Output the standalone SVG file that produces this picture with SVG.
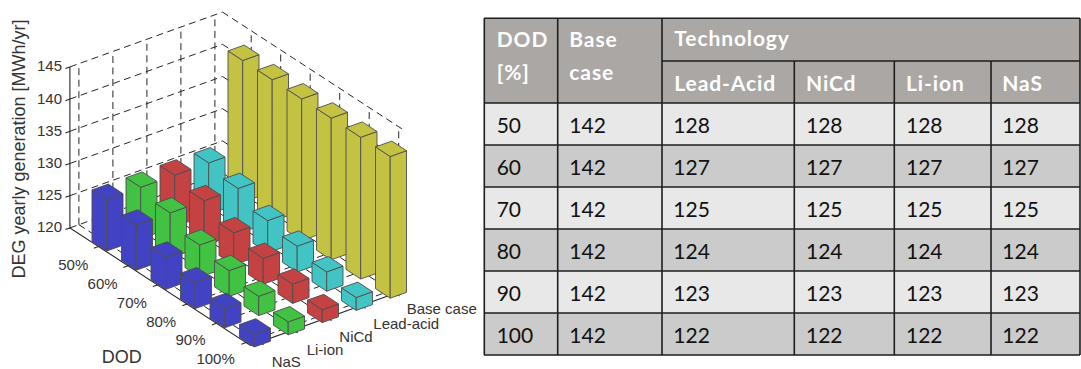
<svg xmlns="http://www.w3.org/2000/svg" width="1081" height="369" viewBox="0 0 1081 369">
<style>
  .grid{fill:none;stroke:#262626;stroke-width:1;stroke-dasharray:7 4.5}
  .axis{fill:none;stroke:#262626;stroke-width:1.1}
  .tk{font-family:"Liberation Sans",Arial,sans-serif;font-size:15px;fill:#333}
  .lbl{font-family:"Liberation Sans",Arial,sans-serif;font-size:18px;fill:#333}
  .nas{fill:#4242c4}.li{fill:#42c242}.nicd{fill:#c44242}.pb{fill:#42c4c4}.base{fill:#c4c242}
  .th{font-family:Lato,"Open Sans",sans-serif;font-weight:700;font-size:21px;letter-spacing:0.9px;fill:#fff}
  .td{font-family:Lato,"Open Sans",sans-serif;font-size:21px;fill:#111}
  .rule{fill:none;stroke:#1e1e1e;stroke-width:1.6}
</style>
<defs>
  <!-- one prism per bar height; base centre at origin, fill taken from the <use> -->
  <g id="h142" stroke="#4d4d4d" stroke-width="0.9" stroke-linejoin="round">
    <path d="M-15.5 -1.9L-0.8 7.7V-134L-15.5 -143.6Z"/>
    <path d="M-0.8 7.7L15.5 1.9V-139.8L-0.8 -134Z"/>
    <path d="M-15.5 -143.6L-0.8 -134L15.5 -139.8L0.8 -149.4Z"/>
  </g>
  <g id="h128" stroke="#4d4d4d" stroke-width="0.9" stroke-linejoin="round">
    <path d="M-15.5 -1.9L-0.8 7.7V-43.8L-15.5 -53.4Z"/>
    <path d="M-0.8 7.7L15.5 1.9V-49.6L-0.8 -43.8Z"/>
    <path d="M-15.5 -53.4L-0.8 -43.8L15.5 -49.6L0.8 -59.2Z"/>
  </g>
  <g id="h127" stroke="#4d4d4d" stroke-width="0.9" stroke-linejoin="round">
    <path d="M-15.5 -1.9L-0.8 7.7V-37.4L-15.5 -47Z"/>
    <path d="M-0.8 7.7L15.5 1.9V-43.2L-0.8 -37.4Z"/>
    <path d="M-15.5 -47L-0.8 -37.4L15.5 -43.2L0.8 -52.8Z"/>
  </g>
  <g id="h125" stroke="#4d4d4d" stroke-width="0.9" stroke-linejoin="round">
    <path d="M-15.5 -1.9L-0.8 7.7V-24.5L-15.5 -34.1Z"/>
    <path d="M-0.8 7.7L15.5 1.9V-30.3L-0.8 -24.5Z"/>
    <path d="M-15.5 -34.1L-0.8 -24.5L15.5 -30.3L0.8 -39.9Z"/>
  </g>
  <g id="h124" stroke="#4d4d4d" stroke-width="0.9" stroke-linejoin="round">
    <path d="M-15.5 -1.9L-0.8 7.7V-18.1L-15.5 -27.7Z"/>
    <path d="M-0.8 7.7L15.5 1.9V-23.9L-0.8 -18.1Z"/>
    <path d="M-15.5 -27.7L-0.8 -18.1L15.5 -23.9L0.8 -33.5Z"/>
  </g>
  <g id="h123" stroke="#4d4d4d" stroke-width="0.9" stroke-linejoin="round">
    <path d="M-15.5 -1.9L-0.8 7.7V-11.6L-15.5 -21.2Z"/>
    <path d="M-0.8 7.7L15.5 1.9V-17.4L-0.8 -11.6Z"/>
    <path d="M-15.5 -21.2L-0.8 -11.6L15.5 -17.4L0.8 -27Z"/>
  </g>
  <g id="h122" stroke="#4d4d4d" stroke-width="0.9" stroke-linejoin="round">
    <path d="M-15.5 -1.9L-0.8 7.7V-5.2L-15.5 -14.8Z"/>
    <path d="M-0.8 7.7L15.5 1.9V-11L-0.8 -5.2Z"/>
    <path d="M-15.5 -14.8L-0.8 -5.2L15.5 -11L0.8 -20.6Z"/>
  </g>
</defs>

<!-- 3-D bar chart -->
<g id="chart">
  <g id="grid" class="grid">
    <!-- back-left wall -->
    <path d="M78.9 224.7V63.7M112.9 212.5V51.5M146.9 200.3V39.3M180.9 188.1V27.1M214.9 175.9V14.9"/>
    <path d="M69.9 227.9L222.5 173.1M69.9 195.7L222.5 140.9M69.9 163.5L222.5 108.7M69.9 131.3L222.5 76.5M69.9 99.1L222.5 44.3M69.9 66.9L222.5 12.1"/>
    <!-- back-right wall -->
    <path d="M251.2 191.8V30.8M280.7 211V50M310.2 230.2V69.2M339.7 249.4V88.4M369.2 268.6V107.6M398.7 287.8V126.8"/>
    <path d="M222.5 173.1L403.1 290.6M222.5 140.9L403.1 258.4M222.5 108.7L403.1 226.2M222.5 76.5L403.1 194M222.5 44.3L403.1 161.8M222.5 12.1L403.1 129.6"/>
    <!-- floor -->
    <path d="M78.9 224.7L259.4 342.2M112.9 212.5L293.4 330M146.9 200.3L327.4 317.8M180.9 188.1L361.4 305.6M214.9 175.9L395.4 293.4"/>
    <path d="M98.5 246.5L251.2 191.8M128 265.7L280.7 211M157.5 284.9L310.2 230.2M187 304.1L339.7 249.4M216.5 323.3L369.2 268.6M246 342.5L398.7 287.8"/>
  </g>

  <g id="axes" class="axis">
    <path d="M69.9 66.9V227.9L250.4 345.4L403.1 290.6"/>
    <path d="M69.9 66.9l-4.5 1.6M69.9 99.1l-4.5 1.6M69.9 131.3l-4.5 1.6M69.9 163.5l-4.5 1.6M69.9 195.7l-4.5 1.6M69.9 227.9l-4.5 1.6"/>
    <path d="M98.5 246.5l-4.7 1.7M128 265.7l-4.7 1.7M157.5 284.9l-4.7 1.7M187 304.1l-4.7 1.7M216.5 323.3l-4.7 1.7M246 342.5l-4.7 1.7"/>
    <path d="M259.4 342.2l4.2 2.7M293.4 330l4.2 2.7M327.4 317.8l4.2 2.7M361.4 305.6l4.2 2.7M395.4 293.4l4.2 2.7"/>
  </g>

  <!-- bars, drawn back to front -->
  <g id="bars">
    <g id="dod50">
      <use href="#h142" x="243.5" y="194.5" class="base"/>
      <use href="#h128" x="209.5" y="206.7" class="pb"/>
      <use href="#h128" x="175.5" y="218.9" class="nicd"/>
      <use href="#h128" x="141.5" y="231.1" class="li"/>
      <use href="#h128" x="107.5" y="243.3" class="nas"/>
    </g>
    <g id="dod60">
      <use href="#h142" x="273" y="213.7" class="base"/>
      <use href="#h127" x="239" y="225.9" class="pb"/>
      <use href="#h127" x="205" y="238.1" class="nicd"/>
      <use href="#h127" x="171" y="250.3" class="li"/>
      <use href="#h127" x="137" y="262.5" class="nas"/>
    </g>
    <g id="dod70">
      <use href="#h142" x="302.5" y="232.9" class="base"/>
      <use href="#h125" x="268.5" y="245.1" class="pb"/>
      <use href="#h125" x="234.5" y="257.3" class="nicd"/>
      <use href="#h125" x="200.5" y="269.5" class="li"/>
      <use href="#h125" x="166.5" y="281.7" class="nas"/>
    </g>
    <g id="dod80">
      <use href="#h142" x="332" y="252.1" class="base"/>
      <use href="#h124" x="298" y="264.3" class="pb"/>
      <use href="#h124" x="264" y="276.5" class="nicd"/>
      <use href="#h124" x="230" y="288.7" class="li"/>
      <use href="#h124" x="196" y="300.9" class="nas"/>
    </g>
    <g id="dod90">
      <use href="#h142" x="361.5" y="271.3" class="base"/>
      <use href="#h123" x="327.5" y="283.5" class="pb"/>
      <use href="#h123" x="293.5" y="295.7" class="nicd"/>
      <use href="#h123" x="259.5" y="307.9" class="li"/>
      <use href="#h123" x="225.5" y="320.1" class="nas"/>
    </g>
    <g id="dod100">
      <use href="#h142" x="391" y="290.5" class="base"/>
      <use href="#h122" x="357" y="302.7" class="pb"/>
      <use href="#h122" x="323" y="314.9" class="nicd"/>
      <use href="#h122" x="289" y="327.1" class="li"/>
      <use href="#h122" x="255" y="339.3" class="nas"/>
    </g>
  </g>

  <g id="zticks" class="tk" text-anchor="end">
    <text x="62" y="71.4">145</text>
    <text x="62" y="103.6">140</text>
    <text x="62" y="135.8">135</text>
    <text x="62" y="168">130</text>
    <text x="62" y="200.2">125</text>
    <text x="62" y="232.4">120</text>
  </g>
  <g id="dodticks" class="tk" text-anchor="end">
    <text x="88.3" y="270">50%</text>
    <text x="117.6" y="288.9">60%</text>
    <text x="146.9" y="307.7">70%</text>
    <text x="176.2" y="326.6">80%</text>
    <text x="205.5" y="345.4">90%</text>
    <text x="234.8" y="364.3">100%</text>
  </g>
  <g id="techticks" class="tk">
    <text x="271.7" y="366.7">NaS</text>
    <text x="306.7" y="355">Li-ion</text>
    <text x="339.3" y="342.3">NiCd</text>
    <text x="373.3" y="329.4">Lead-acid</text>
    <text x="406.7" y="313.8">Base case</text>
  </g>
  <text class="lbl" x="101.7" y="363.3">DOD</text>
  <text class="lbl" transform="translate(24.5 149) rotate(-90)" text-anchor="middle">DEG yearly generation [MWh/yr]</text>
</g>

<!-- results table -->
<g id="table">
  <rect x="484" y="18.3" width="596" height="84.7" fill="#aba7a4"/>
  <rect x="484" y="103" width="596" height="42" fill="#e8e8e8"/>
  <rect x="484" y="145" width="596" height="42" fill="#cbcbcb"/>
  <rect x="484" y="187" width="596" height="42" fill="#e8e8e8"/>
  <rect x="484" y="229" width="596" height="42" fill="#cbcbcb"/>
  <rect x="484" y="271" width="596" height="42" fill="#e8e8e8"/>
  <rect x="484" y="313" width="596" height="42" fill="#cbcbcb"/>
  <path class="rule" d="M484 18.3H1080M662 61H1080M484 103H1080M484 145H1080M484 187H1080M484 229H1080M484 271H1080M484 313H1080M484 355H1080"/>
  <path class="rule" d="M484.3 18.3V355M557.7 18.3V355M662 18.3V355M794.3 61V355M894.3 61V355M991 61V355M1080 18.3V355"/>
  <g id="head" class="th">
    <text x="496.7" y="46.7">DOD</text>
    <text x="496.7" y="80">[%]</text>
    <text x="569.3" y="46.7">Base</text>
    <text x="569.3" y="80">case</text>
    <text x="674.3" y="46">Technology</text>
    <text x="674.3" y="90.5">Lead-Acid</text>
    <text x="806" y="90.5">NiCd</text>
    <text x="906" y="90.5">Li-ion</text>
    <text x="1002.3" y="90.5">NaS</text>
  </g>
  <g id="body" class="td">
    <text x="496.7" y="133">50</text><text x="569.3" y="133">142</text><text x="673.3" y="133">128</text><text x="806" y="133">128</text><text x="906" y="133">128</text><text x="1002.3" y="133">128</text>
    <text x="496.7" y="175">60</text><text x="569.3" y="175">142</text><text x="673.3" y="175">127</text><text x="806" y="175">127</text><text x="906" y="175">127</text><text x="1002.3" y="175">127</text>
    <text x="496.7" y="217">70</text><text x="569.3" y="217">142</text><text x="673.3" y="217">125</text><text x="806" y="217">125</text><text x="906" y="217">125</text><text x="1002.3" y="217">125</text>
    <text x="496.7" y="259">80</text><text x="569.3" y="259">142</text><text x="673.3" y="259">124</text><text x="806" y="259">124</text><text x="906" y="259">124</text><text x="1002.3" y="259">124</text>
    <text x="496.7" y="301">90</text><text x="569.3" y="301">142</text><text x="673.3" y="301">123</text><text x="806" y="301">123</text><text x="906" y="301">123</text><text x="1002.3" y="301">123</text>
    <text x="496.7" y="343">100</text><text x="569.3" y="343">142</text><text x="673.3" y="343">122</text><text x="806" y="343">122</text><text x="906" y="343">122</text><text x="1002.3" y="343">122</text>
  </g>
</g>
</svg>
